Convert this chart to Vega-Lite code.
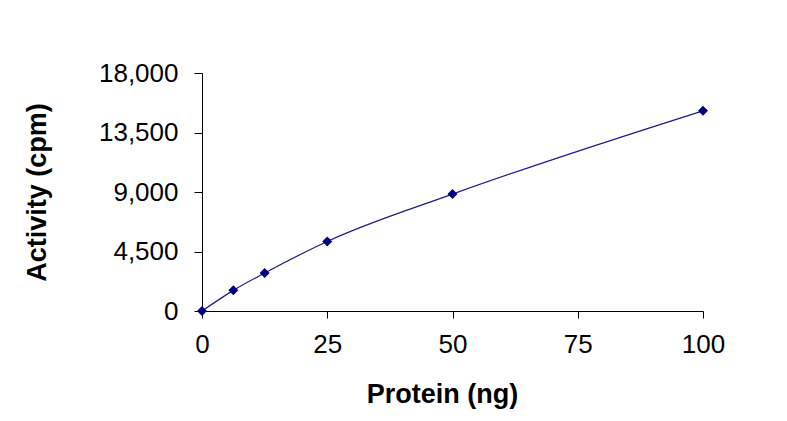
{
  "$schema": "https://vega.github.io/schema/vega-lite/v6.json",
  "width": 501,
  "height": 238,
  "autosize": {"type": "none"},
  "padding": {"left": 202, "top": 73, "right": 84, "bottom": 110},
  "background": "white",
  "config": {
    "view": {"stroke": null},
    "font": "Liberation Sans",
    "axis": {
      "grid": false,
      "domainColor": "black",
      "tickColor": "black",
      "labelColor": "black",
      "titleColor": "black",
      "labelFont": "Liberation Sans",
      "titleFont": "Liberation Sans",
      "labelFontSize": 26,
      "titleFontSize": 27,
      "titleFontWeight": "bold",
      "tickSize": 8,
      "labelFlush": false
    }
  },
  "data": {
    "values": [
      {"protein": 0, "activity": 0},
      {"protein": 6.25, "activity": 1560},
      {"protein": 12.5, "activity": 2870},
      {"protein": 25, "activity": 5260},
      {"protein": 50, "activity": 8840},
      {"protein": 100, "activity": 15140}
    ]
  },
  "encoding": {
    "x": {
      "field": "protein",
      "type": "quantitative",
      "scale": {"domain": [0, 100], "nice": false, "zero": true},
      "axis": {
        "title": "Protein (ng)",
        "values": [0, 25, 50, 75, 100],
        "tickSize": 7,
        "labelBaseline": "alphabetic",
        "labelPadding": 34,
        "titleX": 240,
        "titleY": 91,
        "titleBaseline": "alphabetic"
      }
    },
    "y": {
      "field": "activity",
      "type": "quantitative",
      "scale": {"domain": [0, 18000], "nice": false},
      "axis": {
        "title": "Activity (cpm)",
        "values": [0, 4500, 9000, 13500, 18000],
        "format": ",d",
        "labelPadding": 16,
        "titleX": -157,
        "titleBaseline": "alphabetic"
      }
    }
  },
  "layer": [
    {
      "mark": {"type": "line", "interpolate": "monotone", "color": "#1a1a8c", "strokeWidth": 1.2, "clip": false}
    },
    {
      "mark": {"type": "point", "shape": "diamond", "filled": true, "color": "#000080", "size": 100, "opacity": 1, "clip": false}
    }
  ]
}
